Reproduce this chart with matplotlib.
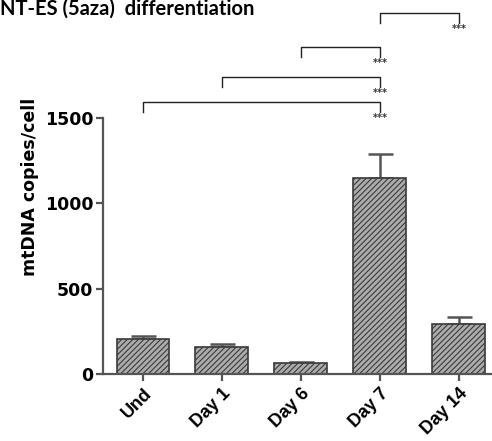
import matplotlib
matplotlib.use("Agg")
import matplotlib.pyplot as plt

categories = ["Und", "Day 1", "Day 6", "Day 7", "Day 14"]
means = [205, 160, 65, 1150, 292]
errors = [18, 15, 7, 140, 42]

# pairs compared (index a, index b) and their label
comparisons = [(0, 3, "***"), (1, 3, "***"), (2, 3, "***"), (3, 4, "***")]
bracket_heights = [1594, 1740, 1916, 2115]

plt.rcParams['hatch.linewidth'] = 0.8
plt.rcParams['hatch.color'] = '#333333'

fig = plt.figure(figsize=(4.92, 4.41), dpi=100)
ax = fig.add_axes([103 / 492, 67 / 441, 1 - 103 / 492, 374 / 441])

x = list(range(len(categories)))
ax.bar(x, means, width=0.67, color='#acacac', edgecolor='#3a3a3a',
       linewidth=1.2, hatch='//////', zorder=2)
ax.errorbar(x, means, yerr=[[0] * len(errors), errors], fmt='none',
            ecolor='#555555', elinewidth=1.8, capsize=9, capthick=1.8, zorder=1)

ax.set_xlim(-0.506, 4.42)
ax.set_ylim(0, 2191)
ax.set_yticks([0, 500, 1000, 1500])
ax.set_xticks(x)
ax.set_xticklabels(categories, rotation=45, ha='right', rotation_mode='anchor',
                   fontsize=13, fontweight='bold', family='Liberation Sans')
for lab in ax.get_yticklabels():
    lab.set_fontsize(12.5)
    lab.set_fontweight('bold')
    lab.set_family('DejaVu Sans')
ax.set_ylabel("mtDNA copies/cell", fontsize=12.5, fontweight='bold',
              family='DejaVu Sans', labelpad=4)

for s in ['top', 'right']:
    ax.spines[s].set_visible(False)
ax.spines['left'].set_bounds(0, 1500)
ax.spines['left'].set_color('#555555')
ax.spines['bottom'].set_color('#555555')
ax.spines['left'].set_linewidth(1.6)
ax.spines['bottom'].set_linewidth(1.6)
ax.tick_params(axis='both', length=5, width=1.6, color='#555555', pad=2)
ax.tick_params(axis='x', pad=3)

drop = 58
for (a, b, lab), h in zip(comparisons, bracket_heights):
    ax.plot([a, a, b, b], [h - drop, h, h, h - drop], color='#222222',
            linewidth=1, clip_on=False)
    ax.text(b, h - 95, lab, ha='center', va='center', fontsize=7,
            fontweight='bold', color='#333333')

fig.text(0.0, 1 - 15 / 441, "NT-ES (5aza)  differentiation", ha='left',
         va='baseline', fontsize=14.5, fontweight='bold', family='Lato')

fig.savefig("out.png", dpi=100)
